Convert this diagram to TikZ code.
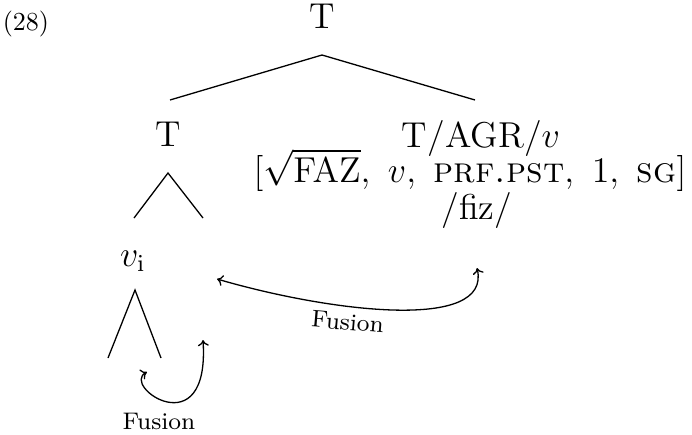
\documentclass[tikz,border=0pt]{standalone}
\usetikzlibrary{arrows.meta}
\begin{document}
\begin{tikzpicture}[x=1pt,y=-1pt,
  lbl/.style={inner sep=0pt,anchor=base,scale=3,font=\fontsize{12}{14}\selectfont},
  small/.style={inner sep=0pt,anchor=base,scale=3,font=\fontsize{8}{10}\selectfont},
  branch/.style={line width=1.3pt},
  fusearrow/.style={line width=1.3pt,{Computer Modern Rightarrow[length=6pt,width=11pt]}-{Computer Modern Rightarrow[length=6pt,width=11pt]}}]
\useasboundingbox (0,0) rectangle (692,434);
% nodes
\node[inner sep=0pt,anchor=base,scale=2.6,font=\fontsize{10}{12}\selectfont] (n28) at (26,30) {(28)};
\node[lbl] (root) at (322,28) {T};
\node[lbl] (tL) at (168,146) {T};
\node[lbl] (tR) at (481,147) {T/AGR/$v$};
\node[lbl] (feat) at (470,182) {$[\sqrt{\mathrm{FAZ}},\ v,\ \textrm{\textsc{prf.pst}},\ 1,\ \textrm{\textsc{sg}}]$};
\node[lbl] (fiz) at (477,219) {/fiz/};
\node[lbl] (vi) at (133,266) {$v_{\mathrm{i}}$};
\node[small,rotate=-5] (fus1) at (347,330) {Fusion};
\node[small] (fus2) at (159,429) {Fusion};
% branch points
\coordinate (ap1) at (322,55);
\coordinate (l1) at (170,100);
\coordinate (r1) at (475,100);
\coordinate (ap2) at (168,173);
\coordinate (l2) at (134,218);
\coordinate (r2) at (203,218);
\coordinate (ap3) at (135,290);
\coordinate (l3) at (108,358);
\coordinate (r3) at (161,358);
% arrow ends
\coordinate (e1) at (217,279);
\coordinate (e2) at (477,268);
\coordinate (e3) at (147,372);
\coordinate (e4) at (203,340);
% branches
\draw[branch] (l1) -- (ap1) -- (r1);
\draw[branch] (l2) -- (ap2) -- (r2);
\draw[branch] (l3) -- (ap3) -- (r3);
% fusion arrows
\draw[fusearrow] (e1) .. controls (330,312) and (492,332) .. (e2);
\draw[fusearrow] (e3) .. controls (120,386) and (210,448) .. (e4);
\end{tikzpicture}
\end{document}
